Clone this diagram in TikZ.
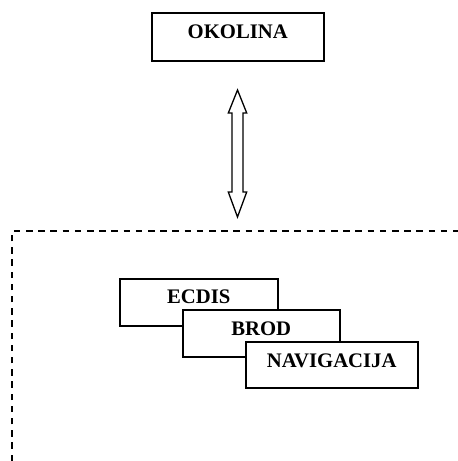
\documentclass[tikz,border=0pt]{standalone}
\usepackage{fontspec}
\setmainfont{Liberation Serif}
\begin{document}
\begin{tikzpicture}[x=1pt,y=-1pt,
  box/.style={draw=black,line width=1.5pt,fill=white,rectangle,inner xsep=0pt,inner ysep=0pt,
    font=\fontsize{20.7}{24}\selectfont\bfseries,anchor=north west},
  blockarrow/.style={draw=black,line width=1.3pt,fill=white,line join=miter},
  frame/.style={draw=black,line width=1.8pt,dash pattern=on 6.5pt off 5.7pt}]
\useasboundingbox (0,0) rectangle (458,461);

% environment at the top
\node[box,minimum width=172pt,text height=26pt,text depth=22pt] (okolina) at (151,12) {OKOLINA};

% two-way exchange between the environment and the system
\coordinate (up) at (237.5,90);
\coordinate (down) at (237.5,217);
\draw[blockarrow] (up) -- (246.7,113) -- (243,113) -- (243,192) -- (246.7,192)
  -- (down) -- (228.3,192) -- (232,192) -- (232,113) -- (228.3,113) -- cycle;

% system boundary (open to the right and bottom)
\coordinate (corner) at (12,231);
\coordinate (fbottom) at (12,461);
\coordinate (fright) at (458,231);
\draw[frame] (fbottom) -- (corner) -- (fright);

% overlapping subsystems
\node[box,minimum width=158pt,text height=25pt,text depth=22pt] (ecdis) at (119,278) {ECDIS};
\node[box,minimum width=157pt,text height=26pt,text depth=21pt] (brod) at (182,309) {BROD};
\node[box,minimum width=172pt,text height=26pt,text depth=20pt] (navig) at (245,341) {NAVIGACIJA};
\end{tikzpicture}
\end{document}
